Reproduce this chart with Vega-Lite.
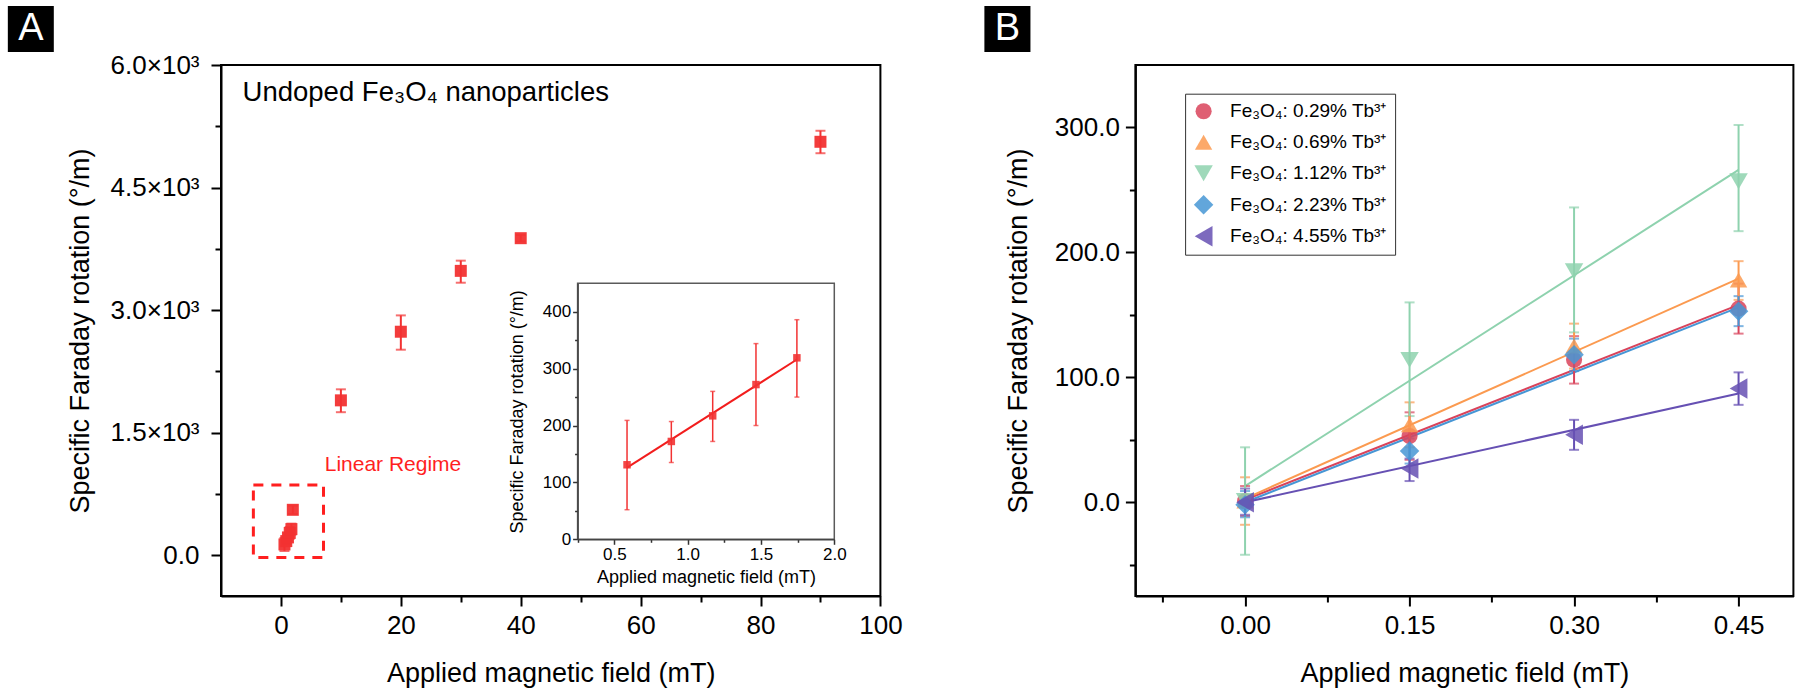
{
  "$schema": "https://vega.github.io/schema/vega-lite/v6.json",
  "background": "white",
  "padding": {"left": 6, "top": 5, "right": 5, "bottom": 5},
  "config": {
    "font": "Liberation Sans",
    "view": {"stroke": "black", "strokeWidth": 2},
    "axis": {"grid": false, "domainColor": "black", "tickColor": "black", "labelColor": "black", "titleColor": "black", "titleFontWeight": "normal", "labelOverlap": false, "labelFlush": false, "labelFont": "Liberation Sans", "titleFont": "Liberation Sans"}
  },
  "datasets": {
    "mainA": [
      {"B": 0.587, "rot": 131, "lo": 52, "hi": 209},
      {"B": 0.889, "rot": 172, "lo": 135, "hi": 207},
      {"B": 1.171, "rot": 217, "lo": 172, "hi": 260},
      {"B": 1.466, "rot": 272, "lo": 200, "hi": 344},
      {"B": 1.745, "rot": 319, "lo": 250, "hi": 386},
      {"B": 1.98, "rot": 555, "lo": 505, "hi": 605},
      {"B": 10, "rot": 1895, "lo": 1750, "hi": 2030},
      {"B": 20, "rot": 2735, "lo": 2515, "hi": 2935},
      {"B": 30, "rot": 3480, "lo": 3335, "hi": 3605},
      {"B": 40, "rot": 3880, "lo": 3840, "hi": 3920},
      {"B": 90, "rot": 5060, "lo": 4920, "hi": 5195}
    ],
    "inset": [
      {"B": 0.587, "rot": 131, "lo": 52, "hi": 209},
      {"B": 0.889, "rot": 172, "lo": 135, "hi": 207},
      {"B": 1.171, "rot": 217, "lo": 172, "hi": 260},
      {"B": 1.466, "rot": 272, "lo": 200, "hi": 344},
      {"B": 1.745, "rot": 319, "lo": 250, "hi": 386}
    ],
    "insetFit": [
      {"B": 0.587, "rot": 126},
      {"B": 1.745, "rot": 316}
    ],
    "pts": [
      {"series": "Fe₃O₄: 0.29% Tb³⁺", "B": 0, "rot": 1, "lo": -11, "hi": 13},
      {"series": "Fe₃O₄: 0.29% Tb³⁺", "B": 0.15, "rot": 53, "lo": 34, "hi": 72},
      {"series": "Fe₃O₄: 0.29% Tb³⁺", "B": 0.3, "rot": 114, "lo": 95, "hi": 133},
      {"series": "Fe₃O₄: 0.29% Tb³⁺", "B": 0.45, "rot": 155, "lo": 135, "hi": 175},
      {"series": "Fe₃O₄: 0.69% Tb³⁺", "B": 0, "rot": 1, "lo": -18, "hi": 20},
      {"series": "Fe₃O₄: 0.69% Tb³⁺", "B": 0.15, "rot": 62, "lo": 44, "hi": 80},
      {"series": "Fe₃O₄: 0.69% Tb³⁺", "B": 0.3, "rot": 125, "lo": 107, "hi": 143},
      {"series": "Fe₃O₄: 0.69% Tb³⁺", "B": 0.45, "rot": 178, "lo": 162, "hi": 193},
      {"series": "Fe₃O₄: 1.12% Tb³⁺", "B": 0, "rot": 1, "lo": -42, "hi": 44},
      {"series": "Fe₃O₄: 1.12% Tb³⁺", "B": 0.15, "rot": 114, "lo": 69, "hi": 160},
      {"series": "Fe₃O₄: 1.12% Tb³⁺", "B": 0.3, "rot": 185, "lo": 136, "hi": 236},
      {"series": "Fe₃O₄: 1.12% Tb³⁺", "B": 0.45, "rot": 257, "lo": 217, "hi": 302},
      {"series": "Fe₃O₄: 2.23% Tb³⁺", "B": 0, "rot": -2, "lo": -12, "hi": 9},
      {"series": "Fe₃O₄: 2.23% Tb³⁺", "B": 0.15, "rot": 41, "lo": 31, "hi": 51},
      {"series": "Fe₃O₄: 2.23% Tb³⁺", "B": 0.3, "rot": 118, "lo": 105, "hi": 131},
      {"series": "Fe₃O₄: 2.23% Tb³⁺", "B": 0.45, "rot": 153, "lo": 141, "hi": 165},
      {"series": "Fe₃O₄: 4.55% Tb³⁺", "B": 0, "rot": 0, "lo": -10, "hi": 11},
      {"series": "Fe₃O₄: 4.55% Tb³⁺", "B": 0.15, "rot": 27, "lo": 17, "hi": 35},
      {"series": "Fe₃O₄: 4.55% Tb³⁺", "B": 0.3, "rot": 54, "lo": 42, "hi": 66},
      {"series": "Fe₃O₄: 4.55% Tb³⁺", "B": 0.45, "rot": 91, "lo": 78, "hi": 104}
    ],
    "fits": [
      {"series": "Fe₃O₄: 0.29% Tb³⁺", "B": 0, "rot": 2},
      {"series": "Fe₃O₄: 0.29% Tb³⁺", "B": 0.45, "rot": 158},
      {"series": "Fe₃O₄: 0.69% Tb³⁺", "B": 0, "rot": 3},
      {"series": "Fe₃O₄: 0.69% Tb³⁺", "B": 0.45, "rot": 179},
      {"series": "Fe₃O₄: 1.12% Tb³⁺", "B": 0, "rot": 13},
      {"series": "Fe₃O₄: 1.12% Tb³⁺", "B": 0.45, "rot": 266},
      {"series": "Fe₃O₄: 2.23% Tb³⁺", "B": 0, "rot": 0},
      {"series": "Fe₃O₄: 2.23% Tb³⁺", "B": 0.45, "rot": 156},
      {"series": "Fe₃O₄: 4.55% Tb³⁺", "B": 0, "rot": 0},
      {"series": "Fe₃O₄: 4.55% Tb³⁺", "B": 0.45, "rot": 87}
    ]
  },
  "spacing": 254.4,
  "bounds": "flush",
  "hconcat": [
    {
      "width": 659.4,
      "height": 531,
      "layer": [
        {
          "layer": [
            {
              "data": {"name": "mainA"},
              "mark": {"type": "errorbar", "ticks": {"size": 10}, "thickness": 2, "color": "#f23232"},
              "encoding": {
                "x": {"field": "B", "type": "quantitative", "axis": null},
                "y": {"field": "lo", "type": "quantitative", "axis": null},
                "y2": {"field": "hi"}
              }
            },
            {
              "data": {"name": "mainA"},
              "mark": {"type": "square", "size": 144, "color": "#f23232", "opacity": 0.95},
              "encoding": {
                "x": {"field": "B", "type": "quantitative",
                  "scale": {"domain": [-10, 100], "nice": false, "zero": false},
                  "axis": {"orient": "bottom", "title": "Applied magnetic field (mT)", "values": [0, 10, 20, 30, 40, 50, 60, 70, 80, 90, 100],
                    "labelExpr": "datum.value % 20 === 0 ? format(datum.value, 'd') : ''",
                    "tickSize": {"condition": {"test": "datum.value % 20 === 0", "value": 10}, "value": 6},
                    "tickWidth": 2, "domainWidth": 2, "labelFontSize": 26, "titleFontSize": 27, "labelPadding": 6, "titlePadding": 22}},
                "y": {"field": "rot", "type": "quantitative",
                  "scale": {"domain": [-500, 6000], "nice": false, "zero": false},
                  "axis": {"orient": "left", "title": "Specific Faraday rotation (°/m)", "values": [0, 750, 1500, 2250, 3000, 3750, 4500, 5250, 6000],
                    "labelExpr": "datum.value === 0 ? '0.0' : (datum.value % 1500 === 0 ? format(datum.value / 1000, '.1f') + '×10³' : '')",
                    "tickSize": {"condition": {"test": "datum.value % 1500 === 0", "value": 10}, "value": 6},
                    "tickWidth": 2, "domainWidth": 2, "labelFontSize": 26, "titleFontSize": 27, "labelPadding": 12, "titlePadding": 16}}
              }
            },
            {
              "data": {"values": [{}]},
              "mark": {"type": "rect", "fillOpacity": 0, "stroke": "#ff1f1f", "strokeWidth": 3, "strokeDash": [10, 8]},
              "encoding": {
                "x": {"datum": -4.6, "type": "quantitative", "axis": null},
                "x2": {"datum": 7.1},
                "y": {"datum": -30, "type": "quantitative", "axis": null},
                "y2": {"datum": 860}
              }
            },
            {
              "data": {"values": [{}]},
              "mark": {"type": "text", "text": "Linear Regime", "color": "#ff1f1f", "fontSize": 21, "align": "left", "baseline": "middle", "font": "Liberation Sans"},
              "encoding": {
                "x": {"datum": 7.3, "type": "quantitative", "axis": null},
                "y": {"datum": 1100, "type": "quantitative", "axis": null}
              }
            },
            {
              "data": {"values": [{}]},
              "mark": {"type": "text", "text": "Undoped Fe₃O₄ nanoparticles", "color": "black", "fontSize": 27.5, "align": "left", "baseline": "middle", "font": "Liberation Sans"},
              "encoding": {
                "x": {"datum": -6.4, "type": "quantitative", "axis": null},
                "y": {"datum": 5657, "type": "quantitative", "axis": null}
              }
            },
            {
              "data": {"values": [{}]},
              "mark": {"type": "rect", "fill": "black"},
              "encoding": {
                "x": {"datum": -45.56, "type": "quantitative", "axis": null},
                "x2": {"datum": -37.89},
                "y": {"datum": 6159, "type": "quantitative", "axis": null},
                "y2": {"datum": 6722}
              }
            },
            {
              "data": {"values": [{}]},
              "mark": {"type": "text", "text": "A", "color": "white", "fontSize": 38, "align": "center", "baseline": "middle", "font": "Liberation Sans"},
              "encoding": {
                "x": {"datum": -41.72, "type": "quantitative", "axis": null},
                "y": {"datum": 6440, "type": "quantitative", "axis": null}
              }
            }
          ],
          "resolve": {"axis": {"x": "independent", "y": "independent"}}
        },
        {
          "layer": [
            {
              "data": {"values": [{}]},
              "mark": {"type": "rect", "fill": "white", "stroke": "#5a5a5a", "strokeWidth": 1.5},
              "encoding": {
                "x": {"datum": 0.25, "type": "quantitative", "axis": null},
                "x2": {"datum": 2.0},
                "y": {"datum": 0, "type": "quantitative", "axis": null},
                "y2": {"datum": 450}
              }
            },
            {
              "data": {"name": "inset"},
              "mark": {"type": "errorbar", "ticks": {"size": 5}, "thickness": 1.5, "color": "#f23232"},
              "encoding": {
                "x": {"field": "B", "type": "quantitative", "axis": null},
                "y": {"field": "lo", "type": "quantitative", "axis": null},
                "y2": {"field": "hi"}
              }
            },
            {
              "data": {"name": "insetFit"},
              "mark": {"type": "line", "color": "#f21d1d", "strokeWidth": 2},
              "encoding": {
                "x": {"field": "B", "type": "quantitative", "axis": null},
                "y": {"field": "rot", "type": "quantitative", "axis": null}
              }
            },
            {
              "data": {"name": "inset"},
              "mark": {"type": "square", "size": 56, "color": "#f23232", "opacity": 0.9},
              "encoding": {
                "x": {"field": "B", "type": "quantitative",
                  "scale": {"domain": [0.25, 2], "range": [356.6, 613.3], "nice": false, "zero": false},
                  "axis": {"orient": "bottom", "offset": -56.7, "zindex": 1, "title": "Applied magnetic field (mT)", "values": [0.25, 0.5, 0.75, 1, 1.25, 1.5, 1.75, 2],
                    "labelExpr": "abs(datum.value * 2 - round(datum.value * 2)) < 1e-6 ? format(datum.value, '.1f') : ''",
                    "tickSize": {"condition": {"test": "abs(datum.value * 2 - round(datum.value * 2)) < 1e-6", "value": 5}, "value": 3},
                    "tickWidth": 1.5, "domainWidth": 1.5, "domainColor": "#444", "tickColor": "#333", "labelFontSize": 17, "titleFontSize": 18, "labelPadding": 2, "titlePadding": 6}},
                "y": {"field": "rot", "type": "quantitative",
                  "scale": {"domain": [0, 450], "range": [474.3, 218.3], "nice": false, "zero": false},
                  "axis": {"orient": "left", "offset": -356.6, "zindex": 1, "title": "Specific Faraday rotation (°/m)", "values": [0, 50, 100, 150, 200, 250, 300, 350, 400],
                    "labelExpr": "datum.value % 100 === 0 ? format(datum.value, 'd') : ''",
                    "tickSize": {"condition": {"test": "datum.value % 100 === 0", "value": 5}, "value": 3},
                    "tickWidth": 1.5, "domainWidth": 1.5, "domainColor": "#444", "tickColor": "#333", "labelFontSize": 17, "titleFontSize": 18, "labelPadding": 2, "titlePadding": 16}}
              }
            }
          ],
          "resolve": {"axis": {"x": "independent", "y": "independent"}}
        }
      ],
      "resolve": {"scale": {"x": "independent", "y": "independent"}, "axis": {"x": "independent", "y": "independent"}}
    },
    {
      "width": 658,
      "height": 531,
      "layer": [
        {
          "data": {"name": "fits"},
          "mark": {"type": "line", "strokeWidth": 2},
          "encoding": {
            "x": {"field": "B", "type": "quantitative",
              "scale": {"domain": [-0.1, 0.5], "nice": false, "zero": false},
              "axis": {"orient": "bottom", "title": "Applied magnetic field (mT)", "values": [-0.075, 0, 0.075, 0.15, 0.225, 0.3, 0.375, 0.45],
                "labelExpr": "abs(datum.value / 0.15 - round(datum.value / 0.15)) < 1e-6 ? format(datum.value, '.2f') : ''",
                "tickSize": {"condition": {"test": "abs(datum.value / 0.15 - round(datum.value / 0.15)) < 1e-6", "value": 10}, "value": 6},
                "tickWidth": 2, "domainWidth": 2, "labelFontSize": 26, "titleFontSize": 27, "labelPadding": 6, "titlePadding": 22}},
            "y": {"field": "rot", "type": "quantitative",
              "scale": {"domain": [-75, 350], "nice": false, "zero": false},
              "axis": {"orient": "left", "title": "Specific Faraday rotation (°/m)", "values": [-50, 0, 50, 100, 150, 200, 250, 300],
                "labelExpr": "datum.value % 100 === 0 ? format(datum.value, '.1f') : ''",
                "tickSize": {"condition": {"test": "datum.value % 100 === 0", "value": 10}, "value": 6},
                "tickWidth": 2, "domainWidth": 2, "labelFontSize": 26, "titleFontSize": 27, "labelPadding": 6, "titlePadding": 22}},
            "color": {"field": "series", "type": "nominal",
              "scale": {"domain": ["Fe₃O₄: 0.29% Tb³⁺", "Fe₃O₄: 0.69% Tb³⁺", "Fe₃O₄: 1.12% Tb³⁺", "Fe₃O₄: 2.23% Tb³⁺", "Fe₃O₄: 4.55% Tb³⁺"],
                "range": ["#d9435b", "#fb9a50", "#8ed2ae", "#4796d5", "#6650b3"]},
              "legend": null}
          }
        },
        {
          "data": {"name": "pts"},
          "mark": {"type": "errorbar", "ticks": {"size": 10}, "thickness": 2},
          "encoding": {
            "x": {"field": "B", "type": "quantitative", "axis": null},
            "y": {"field": "lo", "type": "quantitative", "axis": null},
            "y2": {"field": "hi"},
            "color": {"field": "series", "type": "nominal",
              "scale": {"domain": ["Fe₃O₄: 0.29% Tb³⁺", "Fe₃O₄: 0.69% Tb³⁺", "Fe₃O₄: 1.12% Tb³⁺", "Fe₃O₄: 2.23% Tb³⁺", "Fe₃O₄: 4.55% Tb³⁺"],
                "range": ["#d9435b", "#fb9a50", "#8ed2ae", "#4796d5", "#6650b3"]},
              "legend": null}
          }
        },
        {
          "data": {"name": "pts"},
          "mark": {"type": "point", "filled": true, "opacity": 0.85, "strokeWidth": 0},
          "encoding": {
            "x": {"field": "B", "type": "quantitative", "axis": null},
            "y": {"field": "rot", "type": "quantitative", "axis": null},
            "color": {"field": "series", "type": "nominal",
              "scale": {"domain": ["Fe₃O₄: 0.29% Tb³⁺", "Fe₃O₄: 0.69% Tb³⁺", "Fe₃O₄: 1.12% Tb³⁺", "Fe₃O₄: 2.23% Tb³⁺", "Fe₃O₄: 4.55% Tb³⁺"],
                "range": ["#d9435b", "#fb9a50", "#8ed2ae", "#4796d5", "#6650b3"]},
              "legend": {"title": null, "orient": "none", "legendX": 49.7, "legendY": 28.7, "strokeColor": "#333", "fillColor": "white", "padding": 8, "rowPadding": 11, "labelFontSize": 19, "labelFont": "Liberation Sans", "labelColor": "black", "labelLimit": 300, "symbolSize": 260, "symbolOpacity": 0.85, "symbolStrokeWidth": 0, "labelOffset": 16}},
            "shape": {"field": "series", "type": "nominal",
              "scale": {"domain": ["Fe₃O₄: 0.29% Tb³⁺", "Fe₃O₄: 0.69% Tb³⁺", "Fe₃O₄: 1.12% Tb³⁺", "Fe₃O₄: 2.23% Tb³⁺", "Fe₃O₄: 4.55% Tb³⁺"],
                "range": ["circle", "triangle-up", "triangle-down", "diamond", "triangle-left"]},
              "legend": {"title": null, "orient": "none", "legendX": 49.7, "legendY": 28.7, "strokeColor": "#333", "fillColor": "white", "padding": 8, "rowPadding": 11, "labelFontSize": 19, "labelFont": "Liberation Sans", "labelColor": "black", "labelLimit": 300, "symbolSize": 260, "symbolOpacity": 0.85, "symbolStrokeWidth": 0, "labelOffset": 16}},
            "size": {"field": "series", "type": "nominal",
              "scale": {"domain": ["Fe₃O₄: 0.29% Tb³⁺", "Fe₃O₄: 0.69% Tb³⁺", "Fe₃O₄: 1.12% Tb³⁺", "Fe₃O₄: 2.23% Tb³⁺", "Fe₃O₄: 4.55% Tb³⁺"],
                "range": [260, 420, 420, 480, 420]},
              "legend": null}
          }
        },
        {
          "data": {"values": [{}]},
          "mark": {"type": "rect", "fill": "black"},
          "encoding": {
            "x": {"datum": -0.2377, "type": "quantitative", "axis": null},
            "x2": {"datum": -0.1957},
            "y": {"datum": 360.4, "type": "quantitative", "axis": null},
            "y2": {"datum": 397.2}
          }
        },
        {
          "data": {"values": [{}]},
          "mark": {"type": "text", "text": "B", "color": "white", "fontSize": 38, "align": "center", "baseline": "middle", "font": "Liberation Sans"},
          "encoding": {
            "x": {"datum": -0.2167, "type": "quantitative", "axis": null},
            "y": {"datum": 378.8, "type": "quantitative", "axis": null}
          }
        }
      ],
      "resolve": {"axis": {"x": "independent", "y": "independent"}, "legend": {"color": "independent", "shape": "independent", "size": "independent"}}
    }
  ]
}
